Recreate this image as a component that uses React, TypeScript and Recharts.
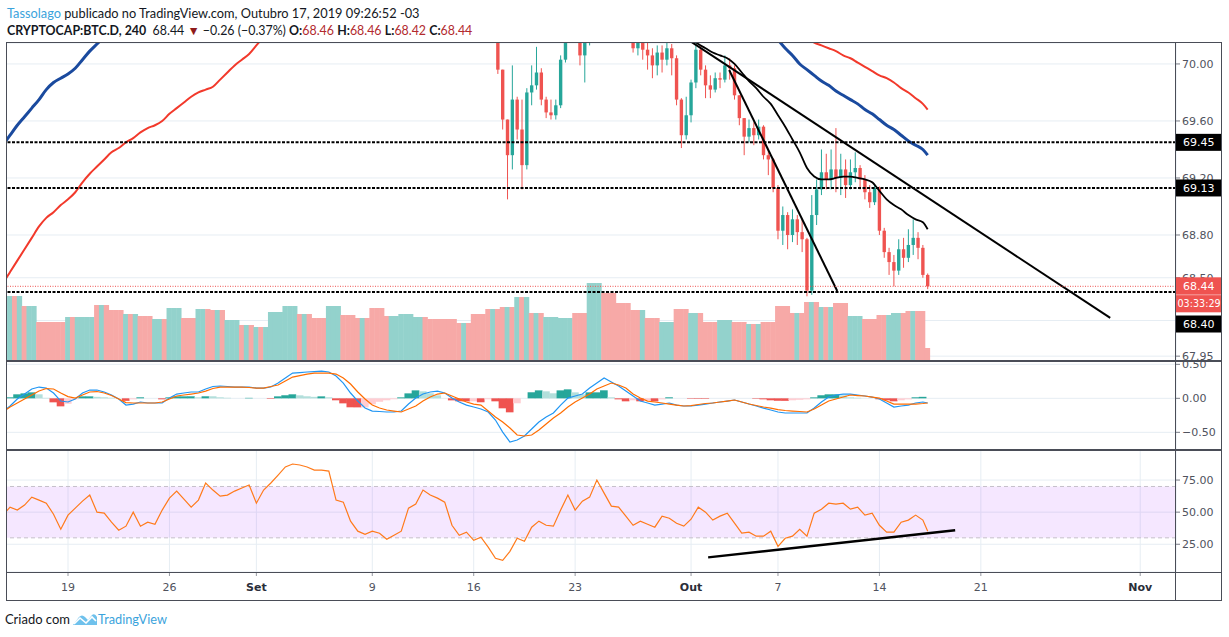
import React, { useLayoutEffect, useRef, useState } from "react";
import {
  ComposedChart,
  Bar,
  Line,
  XAxis,
  YAxis,
  CartesianGrid,
  ReferenceLine,
  ReferenceArea,
} from "recharts";

// ================= DATA =================
// time unit: days since 19 Aug 2019 00:00 (4h chart, sampled here at 8h / 12h)
const DATE_TICKS = [0, 7, 13, 21, 28, 35, 43, 49, 56, 63, 74];
const DATE_LABELS = ["19", "26", "Set", "9", "16", "23", "Out", "7", "14", "21", "Nov"];
const MONTH_LABELS = ["Set", "Out", "Nov"];

const PRICE_TICKS = [70.0, 69.6, 69.2, 68.8, 68.5, 68.2, 67.95];
const PRICE_TICKS_HIDDEN = [68.2]; // fully covered by the 68.40 tag in the original
const MACD_TICKS = [0.5, 0, -0.5];
const RSI_TICKS = [75, 50, 25];

// horizontal levels drawn by the author
const H_LEVELS = [69.45, 69.13, 68.4];
const LAST_PRICE = 68.44;
const COUNTDOWN = "03:33:29";

// trend lines [t, value]
const TREND_LONG = [[43.0, 70.156], [71.93, 68.218]];
const TREND_STEEP = [[45.63, 69.958], [53.09, 68.407]];
const TREND_RSI = [[44.18, 14.8], [61.23, 35.9]];

// candles: 8h bars starting 17 Sep 00:00 (t = 29)
const CANDLE_START = 29;
const CANDLE_FIRST_OPEN = 70.36;
const CANDLE_CLOSE = [
  70.31, 70.24, 69.96, 69.61, 69.36, 69.75, 69.54, 69.29, 69.8, 69.85, 69.94, 69.75,
  69.66, 69.64, 69.71, 70.03, 70.2, 70.27, 70.24, 70.06, 70.17, 70.31, 70.45, 70.52,
  70.41, 70.34, 70.31, 70.38, 70.31, 70.27, 70.11, 70.17, 70.1, 70.06, 69.99, 70.08,
  70.03, 70.11, 70.04, 69.75, 69.5, 69.64, 69.87, 70.1, 69.96, 69.85, 69.82, 69.9,
  69.89, 69.99, 69.97, 69.78, 69.62, 69.49, 69.55, 69.5, 69.56, 69.36, 69.33, 69.13,
  68.83, 68.94, 68.8, 68.91, 68.82, 68.77, 68.41, 68.94, 69.12, 69.24, 69.19, 69.26,
  69.2, 69.26, 69.15, 69.24, 69.27, 69.19, 69.1, 69.03, 69.13, 68.83, 68.68, 68.61,
  68.55, 68.7, 68.64, 68.73, 68.78, 68.71, 68.52, 68.44,
];
const CANDLE_HIGH = [
  70.4, 70.33, 70.28, 69.96, 69.61, 69.99, 69.77, 69.75, 69.83, 69.99, 70.12, 69.97,
  69.77, 69.75, 69.75, 70.06, 70.27, 70.35, 70.34, 70.27, 70.24, 70.41, 70.52, 70.59,
  70.55, 70.45, 70.41, 70.45, 70.41, 70.38, 70.3, 70.24, 70.2, 70.17, 70.11, 70.13,
  70.13, 70.17, 70.14, 70.06, 69.76, 69.77, 69.89, 70.15, 70.13, 69.99, 69.92, 69.94,
  69.94, 70.06, 70.04, 69.99, 69.78, 69.62, 69.61, 69.59, 69.61, 69.57, 69.4, 69.34,
  69.15, 69.0, 68.96, 68.98, 68.94, 68.91, 68.78, 69.08, 69.19, 69.4, 69.37, 69.4,
  69.55, 69.37, 69.33, 69.33, 69.38, 69.29, 69.22, 69.15, 69.15, 69.14, 68.85, 68.71,
  68.66, 68.77, 68.78, 68.84, 68.91, 68.82, 68.73, 68.53,
];
const CANDLE_LOW = [
  70.25, 70.2, 69.93, 69.54, 69.05, 69.26, 69.47, 69.12, 69.26, 69.71, 69.82, 69.71,
  69.62, 69.61, 69.61, 69.69, 70.01, 70.15, 70.17, 69.99, 69.87, 70.13, 70.27, 70.38,
  70.34, 70.27, 70.24, 70.27, 70.24, 70.2, 70.08, 70.06, 70.03, 69.96, 69.9, 69.92,
  69.94, 69.99, 69.92, 69.71, 69.41, 69.47, 69.59, 69.83, 69.92, 69.76, 69.76, 69.8,
  69.83, 69.87, 69.89, 69.75, 69.57, 69.36, 69.45, 69.43, 69.47, 69.33, 69.22, 69.1,
  68.77, 68.73, 68.7, 68.75, 68.73, 68.68, 68.37, 68.38, 68.87, 69.08, 69.12, 69.12,
  69.1, 69.08, 69.06, 69.12, 69.17, 69.12, 69.05, 68.99, 69.01, 68.8, 68.64, 68.52,
  68.44, 68.52, 68.57, 68.61, 68.66, 68.63, 68.5, 68.42,
];

// moving averages: [t, value] (only the parts that are inside the pane)
const MA_BLUE_LEFT = [
  [-4.5, 69.43], [-4, 69.5], [-3.5, 69.57], [-3, 69.63], [-2.5, 69.69], [-2, 69.75],
  [-1.5, 69.82], [-1, 69.87], [-0.5, 69.9], [0, 69.93], [0.5, 69.97], [1, 70.03],
  [1.5, 70.09], [2, 70.14], [2.5, 70.19],
];
const MA_BLUE_RIGHT = [
  [49, 70.17], [49.5, 70.11], [50, 70.06], [50.5, 70.0], [51, 69.96], [51.5, 69.92],
  [52, 69.88], [52.5, 69.85], [53, 69.81], [53.5, 69.78], [54, 69.75], [54.5, 69.72],
  [55, 69.68], [55.5, 69.65], [56, 69.61], [56.5, 69.57], [57, 69.54], [57.5, 69.5],
  [58, 69.46], [58.5, 69.43], [59, 69.4], [59.33, 69.36],
];
const MA_RED_LEFT = [
  [-4.5, 68.46], [-4, 68.54], [-3.5, 68.62], [-3, 68.7], [-2.5, 68.78], [-2, 68.86],
  [-1.5, 68.92], [-1, 68.96], [-0.5, 69.01], [0, 69.05], [0.5, 69.1], [1, 69.17],
  [1.5, 69.23], [2, 69.28], [2.5, 69.33], [3, 69.38], [3.5, 69.41], [4, 69.45],
  [4.5, 69.48], [5, 69.52], [5.5, 69.55], [6, 69.57], [6.5, 69.6], [7, 69.65],
  [7.5, 69.69], [8, 69.73], [8.5, 69.77], [9, 69.8], [9.5, 69.82], [10, 69.84],
  [10.5, 69.89], [11, 69.94], [11.5, 69.99], [12, 70.03], [12.5, 70.07], [13, 70.13],
  [13.5, 70.19],
];
const MA_RED_RIGHT = [
  [51, 70.18], [51.5, 70.15], [52, 70.13], [52.5, 70.11], [53, 70.09], [53.5, 70.06],
  [54, 70.04], [54.5, 70.01], [55, 69.98], [55.5, 69.95], [56, 69.92], [56.5, 69.9],
  [57, 69.87], [57.5, 69.83], [58, 69.8], [58.5, 69.76], [59, 69.72], [59.33, 69.68],
];
const MA_BLACK = [
  [43, 70.18], [43.5, 70.14], [44, 70.11], [44.5, 70.08], [45, 70.06], [45.5, 70.04],
  [46, 70.0], [46.5, 69.94], [47, 69.88], [47.5, 69.83], [48, 69.77], [48.5, 69.72],
  [49, 69.64], [49.5, 69.56], [50, 69.47], [50.5, 69.38], [51, 69.27], [51.5, 69.21],
  [52, 69.19], [52.5, 69.19], [53, 69.2], [53.5, 69.21], [54, 69.21], [54.5, 69.2],
  [55, 69.19], [55.5, 69.17], [56, 69.11], [56.5, 69.05], [57, 69.01], [57.5, 68.98],
  [58, 68.94], [58.5, 68.91], [59, 68.89], [59.33, 68.84],
];

// daily volume (from 14 Aug), with the direction of each 8h bar of the day
const VOLUME_FIRST_DAY = -5;
const VOLUME_DAILY = [
  6.5, 6.5, 5.5, 3.9, 3.9, 4.4, 4.4, 5.6, 5.1, 4.7, 4.5, 4.2, 5.3, 4.3, 5.2, 5.1,
  4.1, 3.6, 3.4, 4.9, 5.5, 4.7, 4.3, 5.5, 4.6, 4.3, 5.3, 4.5, 4.7, 4.4, 4.2, 4.2,
  3.8, 4.7, 5.2, 5.4, 6.4, 4.8, 4.4, 4.3, 4.8, 7.8, 6.8, 5.8, 5.1, 4.3, 3.9, 5.2,
  4.8, 3.9, 4.1, 3.9, 3.7, 3.9, 5.5, 4.8, 5.9, 5.4, 5.8, 4.5, 4.2, 4.6, 4.8, 5.0, 5.0,
];
const VOLUME_DIRS = [
  "uuu", "udu", "duu", "ddd", "ddd", "udu", "uuu", "dud", "ddd", "udu", "ddd", "uud",
  "uuu", "ddd", "uud", "dud", "uuu", "dud", "udu", "uuu", "uuu", "dud", "ddd", "uuu",
  "ddd", "dud", "ddd", "duu", "uuu", "uud", "ddd", "ddd", "dud", "ddd", "dud", "dud",
  "udu", "dud", "uuu", "uuu", "ddd", "uuu", "ddd", "ddd", "ddu", "ddd", "uuu", "ddd",
  "uud", "ddd", "uuu", "ddd", "udu", "ddd", "ddd", "dud", "dud", "udu", "ddd", "uuu",
  "ddd", "ddu", "uud", "dud", "d",
];
const VOLUME_CURRENT_BAR = 1.3;
const CURRENT_BAR_T = 59 + 1 / 3; // 17 Oct 08:00

// MACD (12,26,9) and RSI(14), sampled every 12h from t = -4.5, last value = current bar
const INDICATOR_START = -4.5;
const MACD_LINE = [
  -0.201, -0.113, -0.01, 0.063, 0.137, 0.166, 0.151, 0.078, -0.04, -0.054,
  -0.01, 0.078, 0.122, 0.122, 0.093, 0.049, -0.01, -0.099, -0.084, -0.054,
  -0.069, -0.069, -0.069, 0.004, 0.063, 0.078, 0.093, 0.093, 0.137, 0.174,
  0.181, 0.174, 0.166, 0.166, 0.166, 0.151, 0.151, 0.166, 0.225, 0.299,
  0.372, 0.379, 0.387, 0.394, 0.401, 0.387, 0.328, 0.225, 0.078, -0.04,
  -0.143, -0.187, -0.194, -0.201, -0.201, -0.187, -0.084, 0.004, 0.063, 0.093,
  0.107, 0.078, 0.004, -0.054, -0.099, -0.128, -0.157, -0.201, -0.319, -0.496,
  -0.643, -0.613, -0.554, -0.451, -0.349, -0.275, -0.216, -0.099, 0.004, 0.034,
  0.063, 0.151, 0.225, 0.299, 0.24, 0.181, 0.107, 0.034, -0.04, -0.069,
  -0.099, -0.084, -0.069, -0.099, -0.113, -0.113, -0.099, -0.084, -0.069, -0.054,
  -0.04, -0.025, -0.054, -0.084, -0.113, -0.143, -0.172, -0.201, -0.216, -0.216,
  -0.216, -0.216, -0.143, -0.054, 0.019, 0.049, 0.063, 0.063, 0.049, 0.034,
  0.019, -0.01, -0.069, -0.128, -0.113, -0.099, -0.069, -0.054, -0.069,
];
const MACD_SIGNAL = [
  -0.201, -0.128, -0.069, -0.01, 0.049, 0.107, 0.144, 0.137, 0.078, 0.026,
  0.004, 0.049, 0.093, 0.1, 0.078, 0.041, -0.01, -0.062, -0.069, -0.069,
  -0.069, -0.069, -0.054, -0.01, 0.034, 0.049, 0.063, 0.078, 0.107, 0.144,
  0.166, 0.166, 0.166, 0.166, 0.159, 0.151, 0.151, 0.174, 0.196, 0.254,
  0.313, 0.335, 0.357, 0.372, 0.372, 0.372, 0.357, 0.299, 0.21, 0.093,
  -0.01, -0.099, -0.143, -0.172, -0.187, -0.201, -0.157, -0.113, -0.04, 0.019,
  0.063, 0.078, 0.034, -0.01, -0.054, -0.084, -0.099, -0.187, -0.275, -0.349,
  -0.437, -0.54, -0.554, -0.54, -0.466, -0.378, -0.29, -0.216, -0.128, -0.054,
  0.004, 0.063, 0.137, 0.181, 0.225, 0.196, 0.151, 0.063, 0.004, -0.04,
  -0.054, -0.069, -0.084, -0.099, -0.113, -0.106, -0.091, -0.076, -0.069, -0.054,
  -0.04, -0.025, -0.054, -0.084, -0.106, -0.128, -0.143, -0.165, -0.179, -0.187,
  -0.194, -0.201, -0.157, -0.099, -0.04, -0.01, 0.019, 0.049, 0.041, 0.034,
  0.019, 0.004, -0.04, -0.084, -0.084, -0.084, -0.084, -0.076, -0.069,
];
const RSI = [
  47.7, 53.9, 51.6, 55.5, 61.7, 59.4, 57.0, 48.4, 36.7, 47.7,
  53.1, 58.6, 63.3, 50.0, 49.2, 42.2, 35.9, 39.1, 50.0, 39.1,
  42.2, 40.6, 51.6, 60.9, 66.4, 60.2, 53.9, 59.4, 72.7, 67.2,
  62.5, 63.3, 66.4, 68.8, 71.1, 57.0, 67.2, 72.7, 78.9, 85.2,
  87.5, 86.7, 85.2, 82.8, 82.8, 82.0, 59.4, 57.8, 43.0, 35.2,
  32.8, 35.2, 33.6, 28.9, 32.0, 35.2, 53.1, 56.3, 67.2, 63.3,
  60.9, 57.8, 39.8, 32.0, 34.4, 28.1, 30.5, 22.7, 14.1, 12.5,
  19.5, 29.7, 27.3, 38.3, 43.0, 39.8, 39.1, 51.6, 63.3, 51.6,
  58.6, 61.7, 75.0, 64.8, 54.7, 53.9, 46.9, 39.8, 43.0, 40.6,
  38.3, 46.9, 45.3, 41.4, 39.1, 44.5, 53.9, 50.0, 43.8, 46.9,
  49.2, 41.4, 33.6, 34.4, 31.3, 31.3, 35.2, 23.4, 29.7, 31.3,
  36.7, 31.3, 49.2, 52.3, 57.0, 56.3, 57.0, 52.3, 53.9, 47.7,
  49.2, 39.8, 34.4, 34.4, 42.2, 43.8, 47.7, 43.8, 35.2,
];

// ================= LAYOUT / STYLE =================
const X_DOMAIN = [-4.28, 76.47];
const PRICE_DOMAIN = [67.916, 70.147];
const VOLUME_DOMAIN = [0, 31.8];
const MACD_DOMAIN = [-0.76, 0.549];
const RSI_DOMAIN = [3.4, 98.4];

const CHART_LEFT = 6;
const CHART_W = 1216;
const AXIS_W = 46;
const PLOT_W = CHART_W - AXIS_W;
const PX_PER_DAY = PLOT_W / (X_DOMAIN[1] - X_DOMAIN[0]);
const BAR8H_W = PX_PER_DAY / 3;
const BAR12H_W = PX_PER_DAY / 2;

const UP = "#26a69a";
const DOWN = "#ef5350";
const VOL_UP = "#93d2cc";
const VOL_DOWN = "#f7a9a7";
const GRID = "#e6edf3";
const AXIS_TEXT = "#50535e";
const FRAME = "#4a4d57";
const AXIS_FONT = "DejaVu Sans";
const TITLE_FONT = "Lato, 'Open Sans', sans-serif";

// ================= derived rows =================
const candleRows = CANDLE_CLOSE.map((c, k) => {
  const o = k === 0 ? CANDLE_FIRST_OPEN : CANDLE_CLOSE[k - 1];
  return {
    t: CANDLE_START + k / 3,
    o,
    c,
    h: CANDLE_HIGH[k],
    l: CANDLE_LOW[k],
    range: [CANDLE_LOW[k], CANDLE_HIGH[k]],
  };
});

const volumeRows: any[] = [];
VOLUME_DAILY.forEach((v, i) => {
  const day = VOLUME_FIRST_DAY + i;
  VOLUME_DIRS[i].split("").forEach((d, k) => {
    volumeRows.push({ t: day + k / 3, v, up: d === "u" });
  });
});
volumeRows.push({ t: CURRENT_BAR_T, v: VOLUME_CURRENT_BAR, up: false });

const indicatorRows = MACD_LINE.map((m, i) => {
  const t = i === MACD_LINE.length - 1 ? CURRENT_BAR_T : INDICATOR_START + i * 0.5;
  const hist = m - MACD_SIGNAL[i];
  const prev = i > 0 ? MACD_LINE[i - 1] - MACD_SIGNAL[i - 1] : hist;
  const color =
    hist >= 0 ? (hist >= prev ? "#26a69a" : "#b2dfdb") : hist <= prev ? "#ef5350" : "#ffcdd2";
  return { t, macd: m, signal: MACD_SIGNAL[i], hist, color, rsi: RSI[i] };
});

const toRows = (pairs: number[][]) => pairs.map(([t, v]) => ({ t, v }));

// ================= shapes =================
const Candle = (p: any) => {
  const { x, y, width, height, payload } = p;
  if (!payload || x == null || isNaN(x)) return null;
  const { o, c, h, l } = payload;
  const top = Math.min(y, y + height);
  const hh = Math.abs(height);
  const k = hh / Math.max(h - l, 1e-6);
  const bTop = top + (h - Math.max(o, c)) * k;
  const bBot = top + (h - Math.min(o, c)) * k;
  const cx = x + width / 2;
  const bw = BAR8H_W * 0.7;
  const col = c >= o ? UP : DOWN;
  return (
    <g>
      <line x1={cx} x2={cx} y1={top} y2={top + hh} stroke={col} strokeWidth={1} />
      <rect x={cx - bw / 2} y={bTop} width={bw} height={Math.max(bBot - bTop, 1)} fill={col} />
    </g>
  );
};

const VolumeBar = (p: any) => {
  const { x, y, width, height, payload } = p;
  if (!payload || x == null || isNaN(x)) return null;
  const cx = x + width / 2;
  const w = BAR8H_W + 0.5;
  return (
    <rect
      x={cx - w / 2}
      y={Math.min(y, y + height)}
      width={w}
      height={Math.abs(height)}
      fill={payload.up ? VOL_UP : VOL_DOWN}
    />
  );
};

const HistBar = (p: any) => {
  const { x, y, width, height, payload } = p;
  if (!payload || x == null || isNaN(x)) return null;
  const cx = x + width / 2;
  const w = BAR12H_W + 0.4;
  return (
    <rect
      x={cx - w / 2}
      y={Math.min(y, y + height)}
      width={w}
      height={Math.abs(height)}
      fill={payload.color}
    />
  );
};

const PriceTag = (p: any) => {
  const { viewBox, text, bg = "#000", dy = 0 } = p;
  if (!viewBox) return null;
  const x = viewBox.x + viewBox.width;
  const y = viewBox.y + dy;
  return (
    <g>
      <rect x={x} y={y - 8.5} width={AXIS_W + 2} height={17} fill={bg} />
      <text x={x + 7} y={y + 4} fill="#fff" fontSize={11} fontFamily={AXIS_FONT}>
        {text}
      </text>
    </g>
  );
};

const LastPriceTag = (p: any) => {
  const { viewBox } = p;
  if (!viewBox) return null;
  const x = viewBox.x + viewBox.width;
  const y = viewBox.y;
  return (
    <g>
      <rect x={x} y={y - 9} width={AXIS_W + 2} height={35} fill={DOWN} />
      <line x1={x} x2={x + AXIS_W} y1={y + 8.5} y2={y + 8.5} stroke="#f6a09e" strokeWidth={1} />
      <text x={x + 7} y={y + 4} fill="#fff" fontSize={11} fontFamily={AXIS_FONT}>
        {LAST_PRICE.toFixed(2)}
      </text>
      <text x={x + 1.5} y={y + 21} fill="#fff" fontSize={9.6} fontFamily={AXIS_FONT}>
        {COUNTDOWN}
      </text>
    </g>
  );
};

const DateTick = (p: any) => {
  const { x, y, payload } = p;
  const idx = DATE_TICKS.indexOf(payload.value);
  const label = idx >= 0 ? DATE_LABELS[idx] : "";
  const bold = MONTH_LABELS.includes(label);
  return (
    <text
      x={x}
      y={y}
      dy="0.71em"
      textAnchor="middle"
      fill={bold ? "#2a2e39" : AXIS_TEXT}
      fontWeight={bold ? "bold" : "normal"}
      fontSize={11}
      fontFamily={AXIS_FONT}
    >
      {label}
    </text>
  );
};

const fmtSigned = (v: number) => (v < 0 ? "\u2212" + Math.abs(v).toFixed(2) : v.toFixed(2));
const fmtPrice = (v: number) => (PRICE_TICKS_HIDDEN.includes(v) ? "" : v.toFixed(2));

const axisTick = { fill: AXIS_TEXT, fontSize: 11, fontFamily: AXIS_FONT };
const MARGIN = { top: 0, right: 0, bottom: 0, left: 0 };

const hiddenX = (
  <XAxis
    type="number"
    dataKey="t"
    domain={X_DOMAIN}
    allowDataOverflow
    ticks={DATE_TICKS}
    height={0}
    tick={false}
    tickLine={false}
    axisLine={false}
  />
);

// ================= panes =================
function MainBackground() {
  return (
    <ComposedChart width={CHART_W} height={318} data={volumeRows} margin={MARGIN}>
      {hiddenX}
      <YAxis
        yAxisId="p"
        orientation="right"
        width={AXIS_W}
        type="number"
        domain={PRICE_DOMAIN}
        allowDataOverflow
        ticks={PRICE_TICKS}
        interval={0}
        tickFormatter={fmtPrice}
        tick={axisTick}
        tickSize={4}
        tickMargin={2}
        tickLine={{ stroke: "#787b86" }}
        axisLine={false}
      />
      <YAxis yAxisId="v" hide domain={VOLUME_DOMAIN} allowDataOverflow />
      <CartesianGrid yAxisId="p" stroke={GRID} strokeWidth={1} />
      <Bar
        yAxisId="v"
        dataKey="v"
        barSize={BAR8H_W}
        shape={VolumeBar}
        isAnimationActive={false}
      />
    </ComposedChart>
  );
}

function MainForeground() {
  return (
    <ComposedChart width={CHART_W} height={318} data={candleRows} margin={MARGIN}>
      {hiddenX}
      <YAxis
        yAxisId="p"
        orientation="right"
        width={AXIS_W}
        type="number"
        domain={PRICE_DOMAIN}
        allowDataOverflow
        ticks={PRICE_TICKS}
        tick={false}
        tickLine={false}
        axisLine={false}
      />
      <Bar yAxisId="p" dataKey="range" barSize={BAR8H_W} shape={Candle} isAnimationActive={false} />
      <Line yAxisId="p" data={toRows(MA_RED_LEFT)} dataKey="v" type="monotone" stroke="#f2392b" strokeWidth={2} dot={false} isAnimationActive={false} />
      <Line yAxisId="p" data={toRows(MA_RED_RIGHT)} dataKey="v" type="monotone" stroke="#f2392b" strokeWidth={2} dot={false} isAnimationActive={false} />
      <Line yAxisId="p" data={toRows(MA_BLUE_LEFT)} dataKey="v" type="monotone" stroke="#1a4a9e" strokeWidth={3} dot={false} isAnimationActive={false} />
      <Line yAxisId="p" data={toRows(MA_BLUE_RIGHT)} dataKey="v" type="monotone" stroke="#1a4a9e" strokeWidth={3} dot={false} isAnimationActive={false} />
      <Line yAxisId="p" data={toRows(MA_BLACK)} dataKey="v" type="monotone" stroke="#000" strokeWidth={1.8} dot={false} isAnimationActive={false} />
      <ReferenceLine
        yAxisId="p"
        segment={[{ x: TREND_LONG[0][0], y: TREND_LONG[0][1] }, { x: TREND_LONG[1][0], y: TREND_LONG[1][1] }]}
        ifOverflow="hidden"
        stroke="#000"
        strokeWidth={2}
      />
      <ReferenceLine
        yAxisId="p"
        segment={[{ x: TREND_STEEP[0][0], y: TREND_STEEP[0][1] }, { x: TREND_STEEP[1][0], y: TREND_STEEP[1][1] }]}
        ifOverflow="hidden"
        stroke="#000"
        strokeWidth={2}
      />
      {H_LEVELS.map((lv, i) => (
        <ReferenceLine
          key={lv}
          yAxisId="p"
          y={lv}
          stroke="#000"
          strokeWidth={2}
          strokeDasharray="3 1.5"
          label={<PriceTag text={lv.toFixed(2)} dy={i === H_LEVELS.length - 1 ? 32 : 0} />}
        />
      ))}
      <ReferenceLine
        yAxisId="p"
        y={LAST_PRICE}
        stroke={DOWN}
        strokeWidth={1}
        strokeDasharray="1 1.5"
        label={<LastPriceTag />}
      />
    </ComposedChart>
  );
}

function MacdPane() {
  return (
    <ComposedChart width={CHART_W} height={89} data={indicatorRows} margin={MARGIN}>
      {hiddenX}
      <YAxis
        orientation="right"
        width={AXIS_W}
        type="number"
        domain={MACD_DOMAIN}
        allowDataOverflow
        ticks={MACD_TICKS}
        interval={0}
        tickFormatter={fmtSigned}
        tick={axisTick}
        tickSize={4}
        tickMargin={2}
        tickLine={{ stroke: "#787b86" }}
        axisLine={false}
      />
      <CartesianGrid stroke={GRID} />
      <Bar dataKey="hist" barSize={BAR12H_W} shape={HistBar} isAnimationActive={false} />
      <Line dataKey="macd" type="linear" stroke="#2196f3" strokeWidth={1.2} dot={false} isAnimationActive={false} />
      <Line dataKey="signal" type="linear" stroke="#ff6d00" strokeWidth={1.2} dot={false} isAnimationActive={false} />
    </ComposedChart>
  );
}

function RsiPane() {
  return (
    <ComposedChart width={CHART_W} height={150} data={indicatorRows} margin={MARGIN}>
      <XAxis
        type="number"
        dataKey="t"
        domain={X_DOMAIN}
        allowDataOverflow
        ticks={DATE_TICKS}
        height={28}
        tick={<DateTick />}
        tickSize={4}
        tickMargin={7}
        tickLine={{ stroke: "#9598a1" }}
        axisLine={false}
        interval={0}
      />
      <YAxis
        orientation="right"
        width={AXIS_W}
        type="number"
        domain={RSI_DOMAIN}
        allowDataOverflow
        ticks={RSI_TICKS}
        interval={0}
        tickFormatter={(v: number) => v.toFixed(2)}
        tick={axisTick}
        tickSize={4}
        tickMargin={2}
        tickLine={{ stroke: "#787b86" }}
        axisLine={false}
      />
      <ReferenceArea y1={30} y2={70} fill="#9915ff" fillOpacity={0.1} stroke="none" />
      <CartesianGrid stroke={GRID} />
      <ReferenceLine y={70} stroke="#c5c0ca" strokeDasharray="4 3" />
      <ReferenceLine y={30} stroke="#c5c0ca" strokeDasharray="4 3" />
      <Line dataKey="rsi" type="linear" stroke="#ff7a1a" strokeWidth={1.2} dot={false} isAnimationActive={false} />
      <ReferenceLine
        segment={[{ x: TREND_RSI[0][0], y: TREND_RSI[0][1] }, { x: TREND_RSI[1][0], y: TREND_RSI[1][1] }]}
        ifOverflow="hidden"
        stroke="#000"
        strokeWidth={2.4}
      />
    </ComposedChart>
  );
}

// ================= chrome =================
const RED_TXT = "#b22a2e";
const DARK_TXT = "#131722";
const BLUE_TXT = "#3ba3dc";

// SVG text whose font size is chosen so that its natural width equals `width`
function FitText({ x, y, width, base = 15, maxSize = 15.5, children, ...rest }: any) {
  const ref = useRef<any>(null);
  const [size, setSize] = useState(base);
  useLayoutEffect(() => {
    const el = ref.current;
    if (!el || !el.getComputedTextLength) return;
    const w = el.getComputedTextLength();
    if (w > 0) setSize(Math.min(maxSize, (base * width) / w));
  }, [width, base, maxSize]);
  return (
    <text ref={ref} x={x} y={y} fontSize={size} fontFamily={TITLE_FONT} style={{ whiteSpace: "pre" }} {...rest}>
      {children}
    </text>
  );
}

function Header() {
  return (
    <svg width={1229} height={42} style={{ position: "absolute", left: 0, top: 0 }}>
      <FitText x={7} y={18} width={413}>
        <tspan fill={BLUE_TXT}>Tassolago</tspan>
        <tspan fill={DARK_TXT}> publicado no TradingView.com, Outubro 17, 2019 09:26:52 -03</tspan>
      </FitText>
      <FitText x={7} y={35} width={466} fill={DARK_TXT}>
        <tspan fontWeight="bold">CRYPTOCAP:BTC.D, 240</tspan>
        <tspan>{"  68.44 "}</tspan>
        <tspan fill="#8e1b1b">{"\u25BC"}</tspan>
        <tspan>{" \u22120.26 (\u22120.37%) "}</tspan>
        <tspan fontWeight="bold">O:</tspan>
        <tspan fill={RED_TXT}>{"68.46 "}</tspan>
        <tspan fontWeight="bold">H:</tspan>
        <tspan fill={RED_TXT}>{"68.46 "}</tspan>
        <tspan fontWeight="bold">L:</tspan>
        <tspan fill={RED_TXT}>{"68.42 "}</tspan>
        <tspan fontWeight="bold">C:</tspan>
        <tspan fill={RED_TXT}>68.44</tspan>
      </FitText>
    </svg>
  );
}

function Footer() {
  return (
    <svg width={1229} height={30} style={{ position: "absolute", left: 0, top: 605 }}>
      <FitText x={5} y={19} width={65} fill={DARK_TXT}>
        Criado com
      </FitText>
      <path d="M73 20 L79 12 Q82 9 85 12 L88 15 L92 10 Q95 8 97 12 L97 20 Z" fill="#6fc1ec" />
      <path d="M74 19 L80 13 L86 18 L92 12 L96 16" fill="none" stroke="#fff" strokeWidth={1.6} />
      <FitText x={98} y={19} width={69} fill={BLUE_TXT}>
        TradingView
      </FitText>
    </svg>
  );
}

function Frame() {
  const line = (l: number, t: number, w: number, h: number, key: string) => (
    <div key={key} style={{ position: "absolute", left: l, top: t, width: w, height: h, background: FRAME }} />
  );
  return (
    <>
      {line(6, 42, 1216, 1, "top")}
      {line(6, 42, 1, 559, "left")}
      {line(1221, 42, 1, 559, "right")}
      {line(6, 600, 1216, 1, "bottom")}
      {line(1175, 42, 1, 559, "axis")}
      {line(6, 360, 1216, 1.5, "s1")}
      {line(6, 449, 1216, 1.5, "s2")}
      {line(6, 571.5, 1216, 1.5, "s3")}
    </>
  );
}

export default function App() {
  return (
    <div
      style={{
        position: "absolute",
        left: 0,
        top: 0,
        width: 1229,
        height: 637,
        background: "#fff",
        overflow: "hidden",
      }}
    >
      <Header />
      <div style={{ position: "absolute", left: CHART_LEFT, top: 43 }}>
        <MainBackground />
      </div>
      <div style={{ position: "absolute", left: CHART_LEFT, top: 43 }}>
        <MainForeground />
      </div>
      <div style={{ position: "absolute", left: CHART_LEFT, top: 361 }}>
        <MacdPane />
      </div>
      <div style={{ position: "absolute", left: CHART_LEFT, top: 450 }}>
        <RsiPane />
      </div>
      <Frame />
      <Footer />
    </div>
  );
}
